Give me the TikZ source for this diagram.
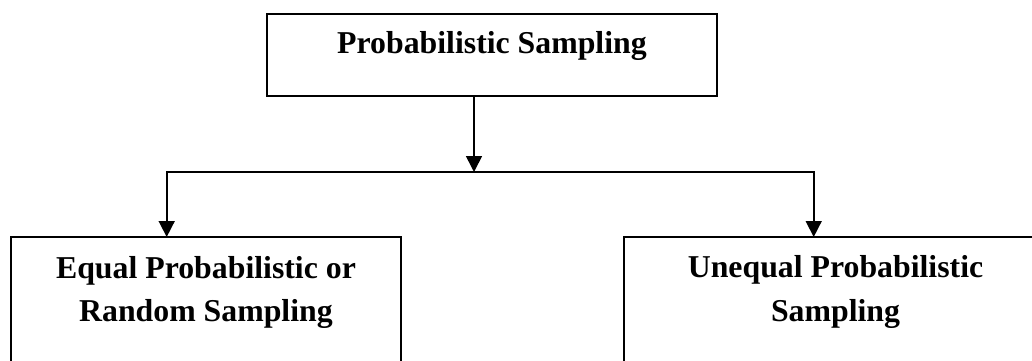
\documentclass[tikz,border=0pt]{standalone}
\usepackage{fontspec}
\setmainfont{Liberation Serif}
\usetikzlibrary{arrows.meta}
\tikzset{
  box/.style={draw, rectangle, line width=2pt, inner sep=0pt, outer sep=0pt},
  boxtext/.style={font=\fontsize{31.8}{43.4}\selectfont\bfseries, align=center,
                  inner sep=0pt, anchor=base},
  link/.style={line width=1.6pt},
  arr/.style={link, -{Triangle[length=16pt,width=16pt]}}
}
\begin{document}
\begin{tikzpicture}[x=1pt,y=-1pt]
  \useasboundingbox (0,0) rectangle (1032,360);
  \clip (0,0) rectangle (1032,360);

  % root box
  \node[box, minimum width=450.6pt, minimum height=82pt] (root) at (492,55) {};
  \node[boxtext] (roottext) at (492,53) {Probabilistic Sampling};

  % the two branches (running past the lower and right edges)
  % (base anchor of a two-line node sits on the last line)
  \node[box, minimum width=390pt, minimum height=163pt] (left) at (206,318.5) {};
  \node[boxtext] (lefttext) at (206,321.7) {Equal Probabilistic or\\Random Sampling};
  \node[box, minimum width=423pt, minimum height=163pt] (right) at (835.5,318.5) {};
  \node[boxtext] (righttext) at (835.5,321) {Unequal Probabilistic\\Sampling};

  % connectors
  \coordinate (split) at (474,172);
  \coordinate (lsplit) at (166.7,172);
  \coordinate (rsplit) at (813.7,172);
  \draw[arr] (root.south -| split) -- (split);
  \draw[arr] (split) -| (left.north -| lsplit);
  \draw[arr] (split) -| (right.north -| rsplit);
\end{tikzpicture}
\end{document}
